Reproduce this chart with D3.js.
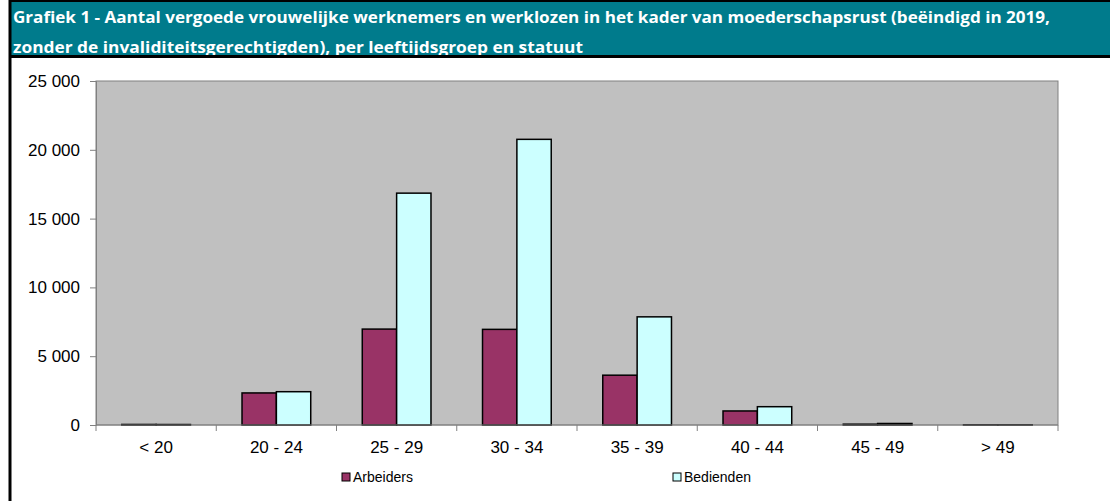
<!DOCTYPE html>
<html>
<head>
<meta charset="utf-8">
<script src="https://cdn.jsdelivr.net/npm/d3@7"></script>
<style>
  body { margin: 0; background: #fff; }
  svg { display: block; }
</style>
</head>
<body>
<div id="chart"></div>
<script>
// data
const categories = ["< 20", "20 - 24", "25 - 29", "30 - 34", "35 - 39", "40 - 44", "45 - 49", "> 49"];
const arbeiders = [40, 2330, 6970, 6950, 3620, 1020, 60, 15];
const bedienden = [35, 2420, 16850, 20760, 7860, 1330, 110, 15];
const yTicks = [0, 5000, 10000, 15000, 20000, 25000];
const seriesNames = ["Arbeiders", "Bedienden"];
const seriesColors = ["#993366", "#CCFFFF"];

const W = 1110, H = 501;
const plot = { left: 96, right: 1058, top: 81, bottom: 425 };

const svg = d3.select("#chart").append("svg")
  .attr("width", W)
  .attr("height", H);

// title bar
svg.append("rect")
  .attr("x", 10).attr("y", 0).attr("width", W - 10).attr("height", 57)
  .attr("fill", "#007B8C");
svg.append("line")
  .attr("x1", 10).attr("x2", W).attr("y1", 1).attr("y2", 1)
  .attr("stroke", "#000").attr("stroke-width", 2);

const titleLines = [
  "Grafiek 1 - Aantal vergoede vrouwelijke werknemers en werklozen in het kader van moederschapsrust (beëindigd in 2019,",
  "zonder de invaliditeitsgerechtigden), per leeftijdsgroep en statuut"
];
const titleLen = [1037, 570];
svg.append("g").selectAll("text")
  .data(titleLines)
  .join("text")
  .attr("x", 13)
  .attr("y", (d, i) => 23 + i * 30)
  .attr("fill", "#fff")
  .attr("font-family", "'Open Sans', sans-serif")
  .attr("font-weight", "bold")
  .attr("font-size", 15.5)
  .attr("textLength", (d, i) => titleLen[i])
  .attr("lengthAdjust", "spacingAndGlyphs")
  .text(d => d);
// black rule under the title, drawn over the clipped second line
svg.append("rect")
  .attr("x", 10).attr("y", 55).attr("width", W - 10).attr("height", 3)
  .attr("fill", "#000");
svg.append("line")
  .attr("x1", 10).attr("x2", 10).attr("y1", 0).attr("y2", H)
  .attr("stroke", "#000").attr("stroke-width", 3);

// scales
const x = d3.scaleBand()
  .domain(categories)
  .range([plot.left, plot.right]);
const xInner = d3.scaleBand()
  .domain(seriesNames)
  .range([0, x.bandwidth()])
  .paddingOuter(0.75);
const y = d3.scaleLinear()
  .domain([0, 25000])
  .range([plot.bottom, plot.top]);

// plot background
svg.append("rect")
  .attr("x", plot.left).attr("y", plot.top)
  .attr("width", plot.right - plot.left).attr("height", plot.bottom - plot.top)
  .attr("fill", "#C0C0C0")
  .attr("stroke", "#808080").attr("stroke-width", 1);

// bars
const rows = categories.map((c, i) => ({ cat: c, vals: [arbeiders[i], bedienden[i]] }));
svg.append("g").selectAll("g")
  .data(rows)
  .join("g")
  .attr("transform", d => `translate(${x(d.cat)},0)`)
  .selectAll("rect")
  .data(d => d.vals.map((v, j) => ({ name: seriesNames[j], v: v, color: seriesColors[j] })))
  .join("rect")
  .attr("x", d => xInner(d.name))
  .attr("y", d => y(d.v))
  .attr("width", xInner.bandwidth())
  .attr("height", d => y(0) - y(d.v))
  .attr("fill", d => d.color)
  .attr("stroke", "#000")
  .attr("stroke-width", 1.5);

// y axis
const yAxis = d3.axisLeft(y)
  .tickValues(yTicks)
  .tickSize(6)
  .tickPadding(10)
  .tickFormat(d => d3.format(",")(d).replace(/,/g, " "));
const gy = svg.append("g")
  .attr("transform", `translate(${plot.left},0)`)
  .call(yAxis);
gy.select(".domain").attr("stroke", "#808080");
gy.selectAll(".tick line").attr("stroke", "#808080");
gy.selectAll("text")
  .attr("font-family", "'Liberation Sans', Arial, sans-serif")
  .attr("font-size", 17)
  .attr("fill", "#000");

// x axis: ticks at category boundaries
svg.append("line")
  .attr("x1", plot.left).attr("x2", plot.right)
  .attr("y1", plot.bottom).attr("y2", plot.bottom)
  .attr("stroke", "#808080");
const bounds = categories.map(c => x(c)).concat([plot.right]);
svg.append("g").selectAll("line")
  .data(bounds)
  .join("line")
  .attr("x1", d => d).attr("x2", d => d)
  .attr("y1", plot.bottom).attr("y2", plot.bottom + 6)
  .attr("stroke", "#808080");
svg.append("g").selectAll("text")
  .data(categories)
  .join("text")
  .attr("x", d => x(d) + x.bandwidth() / 2)
  .attr("y", 453)
  .attr("text-anchor", "middle")
  .attr("font-family", "'Liberation Sans', Arial, sans-serif")
  .attr("font-size", 17)
  .attr("fill", "#000")
  .text(d => d);

// legend
const legendX = [342, 673];
const lg = svg.append("g").selectAll("g")
  .data(seriesNames)
  .join("g")
  .attr("transform", (d, i) => `translate(${legendX[i]},473)`);
lg.append("rect")
  .attr("width", 8).attr("height", 8)
  .attr("fill", (d, i) => seriesColors[i])
  .attr("stroke", "#000").attr("stroke-width", 1);
lg.append("text")
  .attr("x", 11).attr("y", 9)
  .attr("font-family", "'Liberation Sans', Arial, sans-serif")
  .attr("font-size", 14)
  .attr("fill", "#000")
  .text(d => d);
</script>
</body>
</html>
